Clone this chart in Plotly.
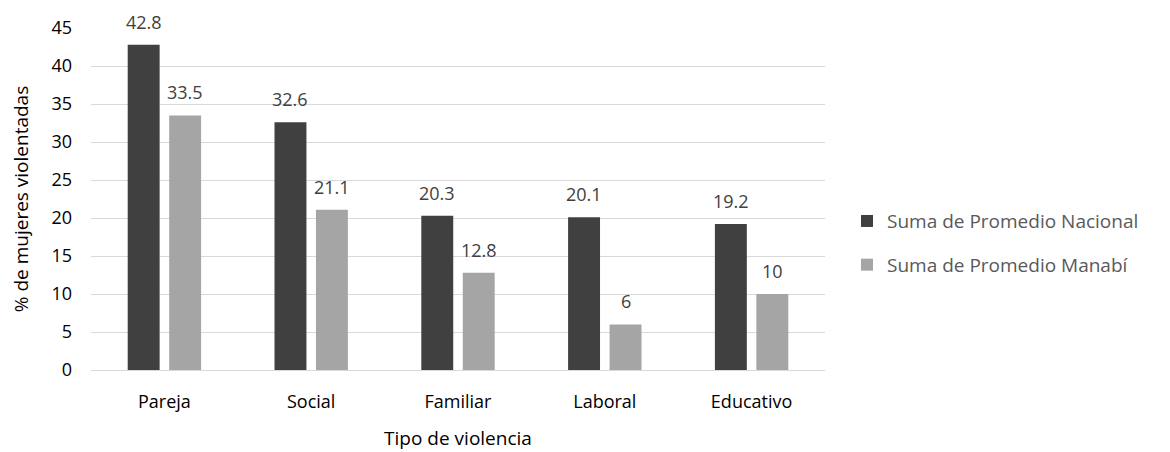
import plotly.graph_objects as go

categories = ["Pareja", "Social", "Familiar", "Laboral", "Educativo"]
nacional = [42.8, 32.6, 20.3, 20.1, 19.2]
manabi = [33.5, 21.1, 12.8, 6, 10]
series_names = ["Suma de Promedio Nacional", "Suma de Promedio Manabí"]
y_ticks = [0, 5, 10, 15, 20, 25, 30, 35, 40, 45]

FONT = "'Open Sans', Lato, sans-serif"
dark = "#404040"
light = "#a5a5a5"

# page body has an 8px margin; figure sized so it ends at the window edge
W, H = 1162, 444
ML, MR, MT, MB = 83, 345, 20, 82
BARGAP, BARGROUPGAP = 0.435, 0.23
plot_w = W - ML - MR
slot = plot_w / len(categories) * (1 - BARGAP) / 2

fig = go.Figure()
fig.add_trace(go.Bar(x=categories, y=nacional, name=series_names[0], marker_color=dark,
                     marker_line_width=0, legendgroup="a"))
fig.add_trace(go.Bar(x=categories, y=manabi, name=series_names[1], marker_color=light,
                     marker_line_width=0, legendgroup="b"))

annotations = []
for vals, sh in ((nacional, -slot / 2), (manabi, slot / 2)):
    for c, v in zip(categories, vals):
        annotations.append(dict(x=c, y=v, xref="x", yref="y", text=f"{v:g}", showarrow=False,
                                xshift=sh, yanchor="bottom", yshift=9,
                                font=dict(size=18, color="#404040", family=FONT)))

fig.update_layout(
    width=W, height=H,
    margin=dict(l=ML, r=MR, t=MT, b=MB, autoexpand=False),
    plot_bgcolor="white", paper_bgcolor="white",
    barmode="group", bargap=BARGAP, bargroupgap=BARGROUPGAP,
    font=dict(family=FONT, size=18, color="#000000"),
    annotations=annotations,
    legend=dict(x=1.03, y=0.371, xanchor="left", yanchor="middle", xref="paper",
                font=dict(size=19, color="#595959", family=FONT),
                tracegroupgap=16, itemwidth=30, bgcolor="rgba(0,0,0,0)"),
    xaxis=dict(title=dict(text="Tipo de violencia", font=dict(size=19, color="#000"), standoff=20),
               showline=True, linecolor="#d9d9d9", linewidth=1, ticks="", automargin=False,
               ticklabelstandoff=15,
               tickfont=dict(size=18, color="#000")),
    yaxis=dict(title=dict(text="% de mujeres violentadas", font=dict(size=19, color="#000"), standoff=22),
               range=[0, 45], tickvals=y_ticks, showgrid=True, gridcolor="#d9d9d9", gridwidth=1,
               zeroline=False, ticks="", ticklabelstandoff=18, automargin=False,
               tickfont=dict(size=18, color="#000")),
)

fig.write_html("out.html")
